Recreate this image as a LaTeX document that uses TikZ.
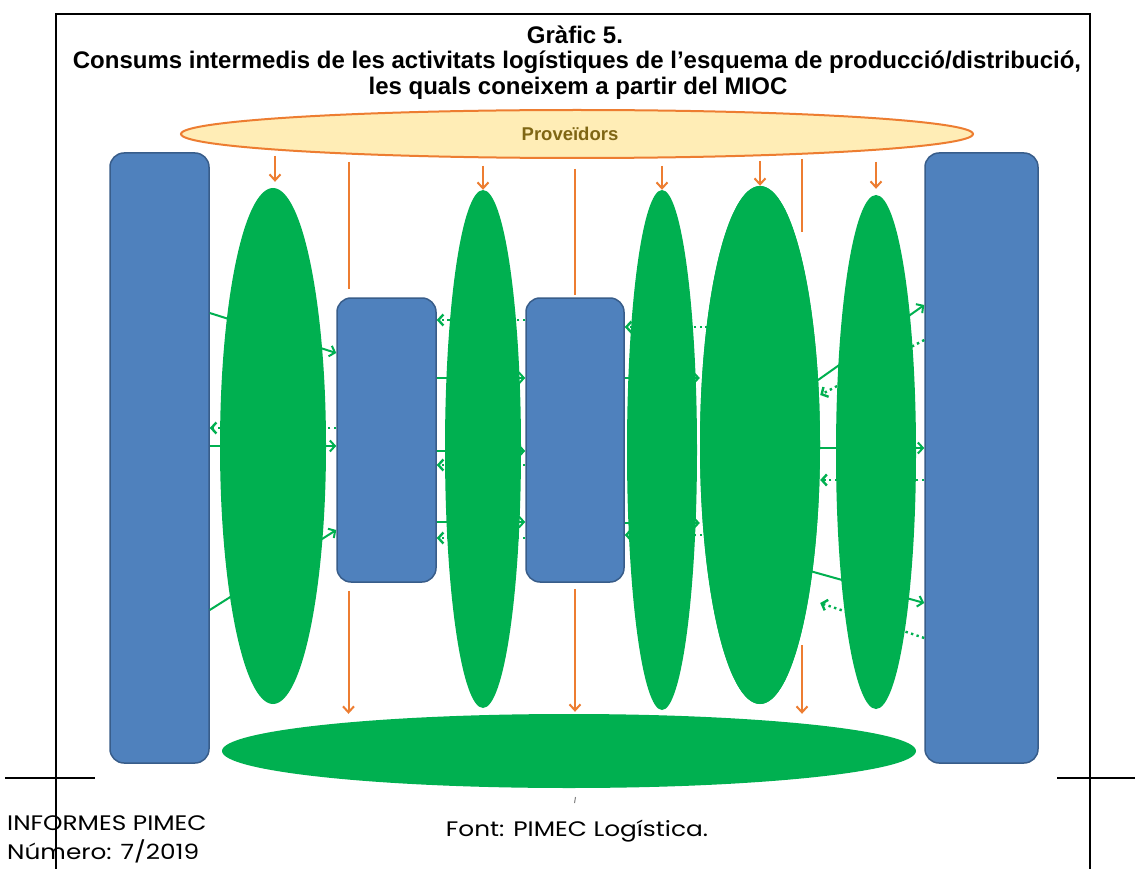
\documentclass[tikz,border=0pt]{standalone}
\usepackage{fontspec}
\setmainfont{Liberation Sans}
\newfontfamily\poppins[FakeStretch=1.18]{Poppins}
\usetikzlibrary{shapes.geometric,arrows.meta}

\begin{document}
\begin{tikzpicture}[x=1pt,y=-1pt,
  marc/.style={line width=1.6pt,black},
  bloc/.style={rectangle,draw=tyvdya,line width=1.5pt,fill=ufyrbd,rounded corners=14pt,inner sep=0pt},
  elip/.style={ellipse,fill=qqbqvq,inner sep=0pt},
  flux/.style={draw=qqbqvq,line width=2pt,-{Straight Barb[length=5pt,width=11pt]}},
  retorn/.style={flux,line width=2.4pt,dash pattern=on 2.4pt off 3.4pt},
  prov/.style={draw=edxdtr,line width=2pt},
  provf/.style={prov,-{Straight Barb[length=6pt,width=11pt]}}]
\definecolor{ufyrbd}{rgb}{0.30980392156862746,0.5058823529411764,0.7411764705882353}
\definecolor{tyvdya}{rgb}{0.2196078431372549,0.36470588235294116,0.5411764705882353}
\definecolor{qqbqvq}{rgb}{0,0.6901960784313725,0.3137254901960784}
\definecolor{edxdtr}{rgb}{0.9294117647058824,0.49019607843137253,0.19215686274509805}
\definecolor{fffscc}{rgb}{1,0.9294117647058824,0.7137254901960784}
\definecolor{xfwqqq}{rgb}{0.4980392156862745,0.4,0.0784313725490196}
\useasboundingbox (0,0) rectangle (1135,869);
\fill[white] (0,0) rectangle (1135,869);
% marc
\draw[marc] (56,869) -- (56,14) -- (1090,14) -- (1090,869);
\draw[marc] (5,778) -- (95,778);
\draw[marc] (1057,778) -- (1135,778);
% titol
\node[font=\bfseries\fontsize{24}{27}\selectfont] (tit1) at (575,35) {Gràfic 5.};
\node[font=\bfseries\fontsize{24}{27}\selectfont] (tit2) at (577,62) {Consums intermedis de les activitats logístiques de l’esquema de producció/distribució,};
\node[font=\bfseries\fontsize{24}{27}\selectfont] (tit3) at (578,88) {les quals coneixem a partir del MIOC};
% blocs
\node[bloc,minimum width=99pt,minimum height=610pt] (L) at (159.5,458) {};
\node[bloc,minimum width=113pt,minimum height=610pt] (R) at (981.5,458) {};
\node[bloc,minimum width=99pt,minimum height=284pt] (M1) at (386.5,440) {};
\node[bloc,minimum width=98pt,minimum height=284pt] (M2) at (575,440) {};
% fluxos verds
\draw[flux] (L.east |- 0,313) -- (M1.west |- 0,353);
\draw[retorn] (M1.west |- 0,428) -- (L.east |- 0,428);
\draw[flux] (L.east |- 0,446) -- (M1.west |- 0,446);
\draw[flux] (L.east |- 0,610) -- (M1.west |- 0,530);
\draw[retorn] (M2.west |- 0,320) -- (M1.east |- 0,320);
\draw[flux] (M1.east |- 0,378) -- (M2.west |- 0,378);
\draw[flux] (M1.east |- 0,451) -- (M2.west |- 0,451);
\draw[retorn] (M2.west |- 0,465) -- (M1.east |- 0,465);
\draw[flux] (M1.east |- 0,522) -- (M2.west |- 0,522);
\draw[retorn] (M2.west |- 0,538) -- (M1.east |- 0,538);
\node[elip,minimum width=106pt,minimum height=516pt] (E1) at (273,446) {};
\node[elip,minimum width=76pt,minimum height=518pt] (E2) at (483,449) {};
\node[elip,minimum width=120pt,minimum height=518pt] (E4) at (760,445) {};
\draw[retorn] (E4.center |- 0,327) -- (M2.east |- 0,327);
\draw[flux] (M2.east |- 0,378) -- (E4.west |- 0,378);
\draw[flux] (M2.east |- 0,523) -- (E4.west |- 0,523);
\draw[retorn] (E4.center |- 0,535) -- (M2.east |- 0,535);
\draw[flux] (E4.center |- 0,421) -- (R.west |- 0,305);
\draw[retorn] (R.west |- 0,340) -- (E4.east |- 0,395);
\draw[flux] (E4.east |- 0,448) -- (R.west |- 0,448);
\draw[retorn] (R.west |- 0,480) -- (E4.east |- 0,480);
\draw[flux] (E4.center |- 0,557) -- (R.west |- 0,603);
\draw[retorn] (R.west |- 0,638) -- (E4.east |- 0,603);
\node[elip,minimum width=70pt,minimum height=520pt] (E3) at (662,450) {};
\node[elip,minimum width=120pt,minimum height=518pt] at (E4) {};
\node[elip,minimum width=80pt,minimum height=514pt] (E5) at (876,452) {};
\node[elip,minimum width=694pt,minimum height=74pt] (B) at (569,751) {};
% proveidors
\node[ellipse,draw=edxdtr,line width=2pt,fill=fffscc,minimum width=792pt,minimum height=48pt,inner sep=0pt,text=xfwqqq,font=\bfseries\fontsize{18.5}{20}\selectfont] (P) at (577,134) {\hspace*{-14pt}Proveïdors};
\coordinate (s1) at ([xshift=-38pt]M1.north);
\coordinate (t1) at ([xshift=-38pt]M1.south);
\coordinate (c1) at (802,232);
\coordinate (c2) at (802,645);
\draw[provf,shorten <=-3pt,shorten >=6pt] ([xshift=2pt]E1.north |- P.south) -- ([xshift=2pt]E1.north);
\draw[prov,shorten <=3pt,shorten >=8pt] (s1 |- P.south) -- (s1);
\draw[provf,shorten <=7pt] (E2.north |- P.south) -- (E2.north);
\draw[prov,shorten <=10pt,shorten >=2pt] (M2.north |- P.south) -- (M2.north);
\draw[provf,shorten <=7pt] (E3.north |- P.south) -- (E3.north);
\draw[provf,shorten <=2pt] (E4.north |- P.south) -- (E4.north);
\draw[prov] (c1 |- P.south) -- (c1);
\draw[provf,shorten <=3pt,shorten >=6pt] (E5.north |- P.south) -- (E5.north);
\draw[provf,shorten <=8pt] (t1) -- (t1 |- B.north);
\draw[provf,shorten <=6pt,shorten >=2pt] (M2.south) -- (M2.south |- B.north);
\draw[provf] (c2) -- (c2 |- B.north);
% peu
\draw[gray,line width=1pt] (575.5,797) -- (574.5,803);
\node[font=\poppins\fontsize{21}{24}\selectfont,anchor=base west,inner sep=0pt] (inf) at (7,830) {INFORMES PIMEC};
\node[font=\poppins\fontsize{21}{24}\selectfont,anchor=base west,inner sep=0pt] (num) at (7,859) {Número: 7/2019};
\node[font=\poppins\fontsize{21}{24}\selectfont,anchor=base,inner sep=0pt] (font) at (577,836) {Font: PIMEC Logística.};
\end{tikzpicture}
\end{document}
